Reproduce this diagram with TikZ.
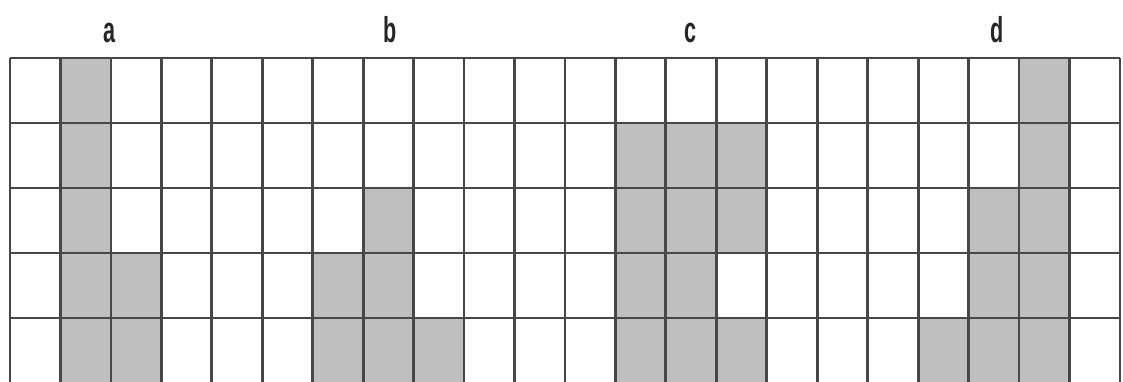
\documentclass[tikz,border=0pt]{standalone}
\usepackage{fontspec}
\setmainfont{Liberation Sans}
\begin{document}
\begin{tikzpicture}[x=1pt,y=-1pt,
  cellfill/.style={fill=black!25},
  gridline/.style={draw=black!72,line width=2.8pt},
  lbl/.style={anchor=base,inner sep=0pt,font=\fontsize{36}{36}\selectfont\bfseries,xscale=0.6,text=black!85}]
\useasboundingbox (0,0) rectangle (1123,381);
\fill[white] (0,0) rectangle (1123,381);
\def\cw{50.45}
\def\rh{65}
\def\xo{10}
\def\yo{58}
% shaded cells: col/row
\foreach \c/\r in {1/0,1/1,1/2,1/3,1/4,2/3,2/4,
                   7/2,7/3,7/4,6/3,6/4,8/4,
                   12/1,13/1,14/1,12/2,13/2,14/2,12/3,13/3,12/4,13/4,14/4,
                   20/0,20/1,20/2,20/3,20/4,19/2,19/3,19/4,18/4}
  \path[cellfill] ({\xo+\c*\cw},{\yo+\r*\rh}) rectangle ({\xo+(\c+1)*\cw},{\yo+(\r+1)*\rh});
% grid lines
\foreach \i in {0,...,22}
  \draw[gridline] ({\xo+\i*\cw},\yo) -- ({\xo+\i*\cw},{\yo+5*\rh});
\foreach \j in {0,...,5}
  \draw[gridline] (\xo,{\yo+\j*\rh}) -- ({\xo+22*\cw},{\yo+\j*\rh});
% labels
\node[lbl] (la) at (110,42) {a};
\node[lbl] (lb) at (390,42) {b};
\node[lbl] (lc) at (690,42) {c};
\node[lbl] (ld) at (997,42) {d};
\end{tikzpicture}
\end{document}
